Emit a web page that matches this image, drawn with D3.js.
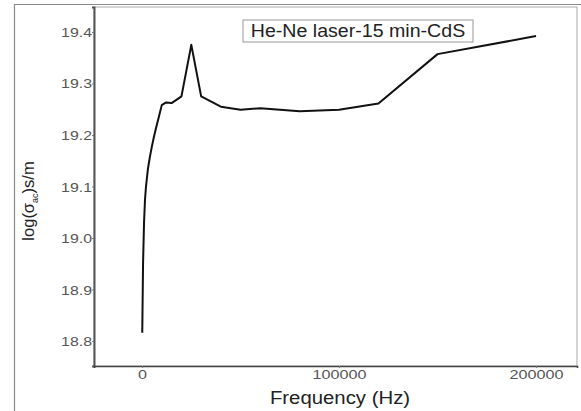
<!DOCTYPE html>
<html>
<head>
<meta charset="utf-8">
<script src="https://cdn.jsdelivr.net/npm/d3@7"></script>
<style>
  html, body { margin: 0; padding: 0; background: #fff; }
  svg { display: block; }
  text { font-family: "Liberation Sans", Arial, sans-serif; }
</style>
</head>
<body>
<svg id="chart" width="581" height="411"></svg>
<script>
// AC conductivity vs frequency, He-Ne laser irradiated CdS (15 min)
const frequency = [100, 500, 1000, 1500, 2000, 3000, 4000, 5000, 6000, 7000, 8500, 10000, 12000, 15000, 20000,
                   25000, 30000, 40000, 50000, 60000, 80000, 100000, 120000, 150000, 200000];
const logSigma  = [18.816, 18.95, 19.03, 19.075, 19.10, 19.135, 19.158, 19.178, 19.196, 19.212, 19.235, 19.258, 19.263, 19.262, 19.275,
                   19.375, 19.275, 19.255, 19.249, 19.252, 19.246, 19.249, 19.261, 19.357, 19.392];
const xTicks = [0, 100000, 200000];
const yTicks = [18.8, 18.9, 19.0, 19.1, 19.2, 19.3, 19.4];
const legendLabel = "He-Ne laser-15 min-CdS";
const xTitle = "Frequency (Hz)";

const svg = d3.select("#chart");
const plot = { left: 94, right: 577, top: 7, bottom: 366 };

const x = d3.scaleLinear().domain([-24400, 220800]).range([plot.left, plot.right]);
const y = d3.scaleLinear().domain([18.7515, 19.4485]).range([plot.bottom, plot.top]);

// outer figure border
svg.append("path")
  .attr("d", "M14.5,411 V4.5 H581")
  .attr("fill", "none").attr("stroke", "#8a8a8a").attr("stroke-width", 1.2);

// plot frame
svg.append("rect")
  .attr("x", plot.left).attr("y", plot.top)
  .attr("width", plot.right - plot.left).attr("height", plot.bottom - plot.top)
  .attr("fill", "none").attr("stroke", "#aaa").attr("stroke-width", 1);

// axes
const yAxis = d3.axisLeft(y).tickValues(yTicks).tickFormat(d3.format(".1f")).tickSize(2).tickPadding(1);
const gy = svg.append("g").attr("transform", `translate(${plot.left},0)`).call(yAxis);
gy.select(".domain").attr("stroke", "#555").attr("stroke-width", 2);
gy.selectAll(".tick line").attr("stroke", "#777");
gy.selectAll(".tick text")
  .attr("fill", "#555").attr("font-size", 13)
  .attr("x", null).attr("dy", null)
  .attr("transform", "translate(-2,4.5) scale(1.22,1)")
  .attr("text-anchor", "end");

const xAxis = d3.axisBottom(x).tickValues(xTicks).tickFormat(d3.format("d")).tickSize(2).tickPadding(1);
const gx = svg.append("g").attr("transform", `translate(0,${plot.bottom})`).call(xAxis);
gx.select(".domain").attr("stroke", "#444").attr("stroke-width", 1.6);
gx.selectAll(".tick line").attr("stroke", "#777");
gx.selectAll(".tick text")
  .attr("fill", "#555").attr("font-size", 13.5)
  .attr("y", null).attr("dy", null)
  .attr("transform", "translate(0,13) scale(1.2,1)")
  .attr("text-anchor", "middle");

// data curve
const line = d3.line().x((d, i) => x(frequency[i])).y(d => y(d)).curve(d3.curveLinear);
svg.append("path")
  .datum(logSigma)
  .attr("d", line)
  .attr("fill", "none").attr("stroke", "#111").attr("stroke-width", 2)
  .attr("stroke-linejoin", "round");

// legend box
const lg = svg.append("g").attr("transform", "translate(243,20)");
lg.append("rect").attr("width", 230).attr("height", 22)
  .attr("fill", "#fff").attr("stroke", "#999").attr("stroke-width", 1);
lg.append("text").attr("transform", "translate(115,17) scale(1.12,1)")
  .attr("text-anchor", "middle").attr("font-size", 17.5).attr("fill", "#222")
  .text(legendLabel);

// axis titles
svg.append("text")
  .attr("transform", "translate(340,404) scale(1.1,1)")
  .attr("text-anchor", "middle").attr("font-size", 18.5).attr("fill", "#222")
  .text(xTitle);

const yt = svg.append("text")
  .attr("transform", "translate(34,201) rotate(-90)")
  .attr("text-anchor", "middle").attr("font-size", 16.5).attr("fill", "#222");
yt.append("tspan").text("log(σ");
yt.append("tspan").attr("font-size", 9).attr("dy", 4).text("ac");
yt.append("tspan").attr("dy", -4).text(")s/m");
</script>
</body>
</html>
